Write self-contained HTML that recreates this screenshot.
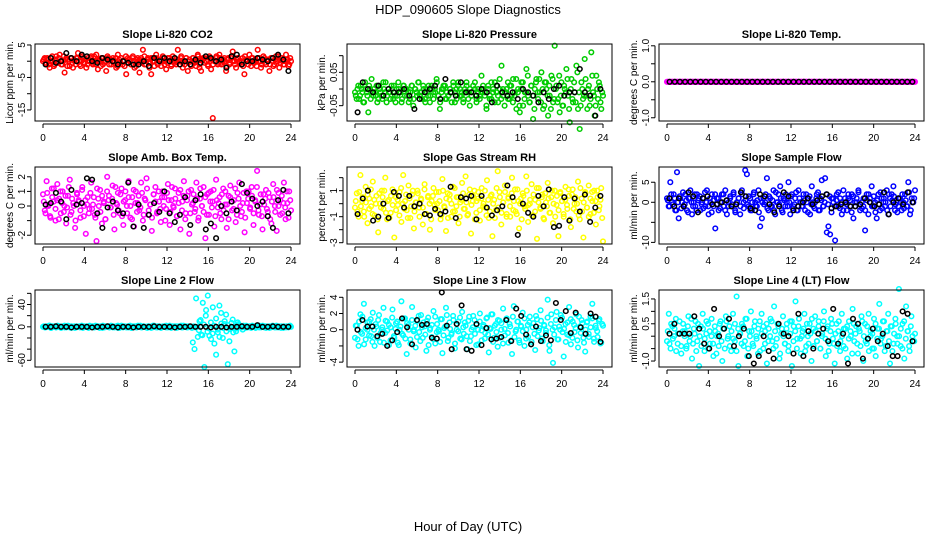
<!DOCTYPE html>
<html><head><meta charset="utf-8"><style>
html,body{margin:0;padding:0;background:#fff;}
svg{display:block;font-family:"Liberation Sans",sans-serif;}
</style></head><body>
<svg id="chart" width="936" height="540" viewBox="0 0 936 540" xmlns="http://www.w3.org/2000/svg">
<rect x="0" y="0" width="936" height="540" fill="#fff"/>
<text x="468" y="14" font-size="13" text-anchor="middle">HDP_090605  Slope Diagnostics</text>
<text x="468" y="531" font-size="13" text-anchor="middle">Hour of Day (UTC)</text>
</svg>
<script>
const xTicks = [0,4,8,12,16,20,24];
const titles = ["Slope Li-820 CO2","Slope Li-820 Pressure","Slope Li-820 Temp.","Slope Amb. Box Temp.","Slope Gas Stream RH","Slope Sample Flow","Slope Line 2 Flow","Slope Line 3 Flow","Slope Line 4 (LT) Flow"];
const yTitles = ["Licor ppm per min.","kPa per min.","degrees C per min.","degrees C per min.","percent per min.","ml/min per min.","ml/min per min.","ml/min per min.","ml/min per min."];
const colors = ["#ff0000","#00cc00","#ff00ff","#ff00ff","#ffff00","#0000ff","#00ffff","#00ffff","#00ffff"];
const yLims = [[5.3,-18.4],[0.135,-0.096],[1.05,-1.09],[2.67,-2.6],[2.82,-3.1],[8.8,-10.4],[66,-72],[4.9,-4.6],[1.86,-1.24]];
const yTickVals = [[5,0,-5,-10,-15],[0.1,0.05,0,-0.05],[1,0.5,0,-0.5,-1],[2,1,0,-1,-2],[2,1,0,-1,-2,-3],[5,0,-5,-10],[60,40,20,0,-20,-40,-60],[4,2,0,-2,-4],[1.5,1,0.5,0,-0.5,-1]];
const yTickLabels = [["5","","-5","","-15"],["","0.05","","-0.05"],["1.0","","0.0","","-1.0"],["2","1","0","","-2"],["","1","","-1","","-3"],["5","0","","-10"],["","40","","0","","","-60"],["4","2","0","","-4"],["1.5","","0.5","","","-1.0"]];
const valueScale = [1,0.01,1,1,1,1,1,1,1];

const co2All = [0,1,-1,0.5,-2,1,0,-1,1.5,-0.5,2,-1,0,-3.5,1,0.5,-1.5,1,-2,0,1,2.5,-1,0,1,-0.5,-2,1,0,1.5,-1,0,2,-2.5,0.5,1,-1,0,-3,1,0.5,-1,1,0,-2,2,-0.5,1,0,-1.5,-4,1,0,-1,1.5,-2,0.5,0,-3.5,1,3.5,-1,0,1,-2,-4,1,0,2,-1,0.5,-1.5,1,0,-2.5,1,0,-1,1.5,-0.5,0,3.5,-1,1,-2,0,1,-3,0.5,-1,1,0,-1.5,2,-2,-3,0.5,1,0,-1,1.5,-2.5,-17.5,0,1,-1,2,-0.5,0,1,-3,0.5,-1,1,3,0,-2,1,0,-1,1,-4,0.5,0,2,-1.5,1,-0.5,0,3.5,1,-2,0,1,-1,0.5,-3,1,0,-1,1.5,0,-2,1,0,-1,2,0.5,-1,0];
const co2Core = [0.5,-0.5,1,-1,0,1.5,-1.5,0.5,-0.5,1,0,-1,1.5,0.5,-1.5,0,1,-0.5,0.5,-1,1,0,-1.5,1.5,-0.5,0.5,-1,0,1,-0.5,1.5,-1,0,0.5,-1.5,1,-0.5,0,1.5,-1,0.5,0,-0.5,1,-1.5,0.5,1,-1,0,1.5,-0.5,0.5,-1,1,0,-1.5,1,0.5,-0.5,0,1.5,-1,0.5,-0.5,1,0,-1.5,1,-0.5,0.5,0,1.5,-1,0.5,-0.5,1,-1.5,0,1,-1,0.5,0,1.5,-0.5,-1,1,0,0.5,-1.5,1,-0.5,0,1.5,-1,0.5,1,-0.5,0,-1.5,1,0.5,-1,0,1.5,-0.5,1,-1,0.5,0,-1.5,1,-0.5,1.5,0,-1,0.5,1,-0.5,0,-1.5,1.5,0.5,-1,0,1,-0.5,0.5,-1.5,1,0,-1,1.5,-0.5,0.5,0,-1,1,-1.5,0.5,0,1.5,-0.5,1,-1,0,0.5,-1.5,1];
const co2Hourly = [-1,1,-0.5,0,2.5,1,0,2,1.5,0,-0.5,1,0.5,0,-1,0,-0.5,-1,-1,0,-1.5,1,0,1,0,1,-1,0,-1,0.5,-0.5,1.5,1,0,0.5,-2,1.5,2,-1,0,0,1,0.5,0,1,2,0.5,-3];
const presAll = [-1,-3,1,-2,0,-4,2,-1,-7,0,3,-2,-1,1,-3,0,-2,2,-1,-4,0,-1,1,-3,-2,0,2,-1,-4,1,-2,0,-1,-3,1,-5,0,-1,2,-2,-1,1,-3,0,-2,-4,1,-1,0,3,-2,-6,-1,0,1,-3,-2,0,-1,2,-4,0,1,-2,-1,-3,0,2,-1,-5,-2,1,0,-3,-1,-2,4,0,-1,-6,1,-2,-3,0,2,-1,-4,0,7,-2,-1,0,-3,1,-2,3,-1,-6,0,-7,2,-5,-1,6,-2,-4,1,-9,0,3,-3,-1,5,-6,2,0,-8,-2,4,-4,13,1,-3,-7,2,-5,0,6,-2,-10,3,-4,-1,7,-6,-12,2,-3,9,-2,0,-5,11,-1,-8,4,-3,1,-6,-2];
const presCore = [-2,0,-3,1,-1,-4,0,-2,1,-3,-1,0,-2,-4,1,-1,-3,0,2,-2,-1,-3,0,1,-4,-2,0,-1,-3,1,0,-2,-4,-1,1,-3,0,-2,2,-1,-3,0,-4,-1,1,-2,0,-3,-1,2,-2,-4,0,1,-3,-1,-2,0,-4,1,-1,-3,2,0,-2,-4,-1,1,-3,0,-2,-1,2,-4,0,-3,-1,1,-2,-5,0,-3,2,-1,-4,1,-2,3,-3,0,-5,-1,2,-3,1,-4,-2,3,-1,-5,0,2,-3,-1,4,-4,1,-2,-6,2,-1,3,-4,0,-5,2,-2,1,-6,3,-3,0,-4,4,-2,-5,1,-1,3,-6,0,-3,2,-4,5,-1,-5,0,-2,3,-6,1,-3,4,-2,-5,0,2,-4,-1];
const presHourly = [-7,2,0,-1,1,-2,0,-1,-1,0,-2,-6,-3,-1,0,1,-3,3,-1,-2,2,-1,-1,-2,0,-1,-4,1,-1,-2,-1,-3,0,-1,-2,-4,-1,-3,0,1,-2,-1,-1,6,-1,-2,-8,0];
const tempAll = [0,0,0,0,0,0,0,0,0,0,0,0,0,0,0,0,0,0,0,0,0,0,0,0,0,0,0,0,0,0,0,0,0,0,0,0,0,0,0,0,0,0,0,0,0,0,0,0,0,0,0,0,0,0,0,0,0,0,0,0,0,0,0,0,0,0,0,0,0,0,0,0,0,0,0,0,0,0,0,0,0,0,0,0,0,0,0,0,0,0,0,0,0,0,0,0,0,0,0,0,0,0,0,0,0,0,0,0,0,0,0,0,0,0,0,0,0,0,0,0,0,0,0,0,0,0,0,0,0,0,0,0,0,0,0,0,0,0,0,0,0,0,0,0,0,0,0,0,0,0];
const tempCore = [0,0,0,0,0,0,0,0,0,0,0,0,0,0,0,0,0,0,0,0,0,0,0,0,0,0,0,0,0,0,0,0,0,0,0,0,0,0,0,0,0,0,0,0,0,0,0,0,0,0,0,0,0,0,0,0,0,0,0,0,0,0,0,0,0,0,0,0,0,0,0,0,0,0,0,0,0,0,0,0,0,0,0,0,0,0,0,0,0,0,0,0,0,0,0,0,0,0,0,0,0,0,0,0,0,0,0,0,0,0,0,0,0,0,0,0,0,0,0,0,0,0,0,0,0,0,0,0,0,0,0,0,0,0,0,0,0,0,0,0,0,0,0,0,0,0,0,0,0,0];
const tempHourly = [0,0,0,0,0,0,0,0,0,0,0,0,0,0,0,0,0,0,0,0,0,0,0,0,0,0,0,0,0,0,0,0,0,0,0,0,0,0,0,0,0,0,0,0,0,0,0,0];
const ambAll = [0.8,-0.3,1.7,0,-0.7,1.2,0.3,-1,1.5,0.5,-0.5,1,0,-1.2,0.7,1.8,-0.4,0.2,-1.5,0.9,0.4,-0.8,1.3,0,-1.9,0.6,-0.2,1.6,0.1,-0.6,-2.4,0.5,1.1,-1.2,0.3,-0.9,2,0.7,-0.1,1.4,-1.6,0.2,0.9,-0.5,1.2,-1.3,0.4,0,1.7,-0.8,0.6,-1.4,1,0.2,-0.3,1.6,-1,0.5,1.9,-0.6,0.1,-1.7,0.8,1.3,-0.4,0.3,-1.1,1,0.6,-0.2,1.5,-1.3,0.4,0,1.2,-0.7,0.9,-1.6,0.3,1.7,-0.5,0.7,-1.9,1.1,0.2,-0.4,1.6,-1,0.5,0,1.3,-2.2,0.8,-0.6,1,0.3,-1.4,1.8,-0.1,0.6,-0.9,1.2,0.1,-1.5,0.7,1.4,-0.3,0.4,-1.1,0.9,1.6,-0.7,0.2,-1.8,1,0.5,-0.2,1.3,-1.3,0.3,2.4,-0.6,0.8,-1.6,0.1,1.1,-0.4,0.6,-1.2,1.5,0,-1.7,0.9,0.4,-0.5,1.6,-0.9,0.2,1,-0.3];
const ambCore = [0.3,-0.5,0.9,0.1,-0.8,0.6,1.2,-0.2,0.4,-0.9,1,0.2,-0.4,0.7,-0.1,1.3,-0.6,0.5,0,-1,0.8,0.3,-0.3,1.1,-0.7,0.4,0.1,-0.5,0.9,-0.2,0.6,-0.8,1.2,0,-0.4,0.7,0.2,-0.9,1,0.4,-0.1,0.5,-0.6,1.3,0.1,-0.3,0.8,-0.7,0.3,1,-0.5,0.6,0,-0.9,1.1,0.2,-0.4,0.7,-0.1,0.9,-0.6,0.4,1.2,-0.3,0.1,-0.8,0.8,0.3,-0.5,1,-0.2,0.6,0,-1,0.9,0.4,-0.4,1.3,-0.1,0.5,-0.7,0.2,1.1,-0.3,0.7,-0.9,0.4,1,-0.5,0.1,0.8,-0.2,0.5,-0.8,1.2,0,-0.4,0.6,-0.6,0.9,0.3,-0.1,1.1,-0.7,0.4,0.2,-0.5,0.8,-0.3,1,0.1,-0.9,0.6,0.3,-0.2,1.2,-0.6,0.5,0,-0.4,0.9,-0.8,0.2,1,-0.1,0.7,-0.5,0.4,1.3,-0.3,0.1,-0.7,0.8,0.5,-0.2,0.9,-0.9,0.3,0.6,-0.4,1.1,0,-0.6,0.7,0.2,-0.1,1,-0.8,0.4];
const ambHourly = [0.1,0.2,0.9,0.3,-0.9,1.1,0.1,0.2,1.9,1.8,-0.5,-1.5,-0.1,0.3,-0.3,-0.5,1.6,-1.4,0.1,-1.5,-0.6,0.2,-0.4,1,-0.5,-1.1,-0.6,0.6,-1.3,0.4,0.8,-1.6,-1.2,-2.2,0,-0.5,0.3,-0.3,1.5,0.9,0.5,0,0.3,-0.7,-1.5,0.4,1.1,-0.5];
const rhAll = [-0.3,0.8,-1,2.2,0.2,-0.6,1.3,-1.5,0.4,-0.2,1.7,-0.9,0.6,-2.2,0,1,-0.4,2,-1.2,0.3,-0.7,1.1,-2.6,0.5,-0.1,0.9,-1.4,2.2,0.2,-0.5,1.4,-1.1,0.7,-1.9,0.1,1,-0.3,0.4,-1.6,1.5,-0.8,0.6,-2,0.2,1.2,-0.5,0,0.9,-1.2,1.9,-0.2,-2.1,0.8,0.3,-1,1.3,-0.6,0.5,-1.5,0.1,1.6,-0.4,2.1,-0.9,0.7,-2.3,0.2,1,-0.7,0.4,-1.3,1.2,0,-0.3,1.8,-1.1,0.6,-2.5,0.3,-0.5,2.5,0.9,-1.6,0.1,1.4,-0.8,0.5,-1,2,0.2,-0.6,1.1,-1.9,0.4,0.8,-0.2,2.1,-1.4,0,1.5,-0.9,0.3,-2.7,1.2,-0.4,0.7,-1.2,0.1,1.6,-0.7,0.5,-1.5,1,-0.1,-2.5,0.8,0.2,-1,1.3,-0.4,0.6,-1.8,1.1,0,-0.6,1.7,-1.2,0.4,-2.6,0.9,-0.3,1.4,-0.8,0.2,1,-1.6,0.5,-0.2,1.2,-2.9];
const rhCore = [0.2,-0.6,0.9,-0.2,0.5,-1,0.1,0.7,-0.4,1.1,-0.8,0.3,0,-1.2,0.8,-0.3,0.5,1,-0.7,0.2,-1.1,0.6,-0.1,0.9,-0.5,0.3,-0.9,1.2,0,-0.4,0.7,-1.1,0.4,-0.2,1,-0.6,0.1,0.8,-1,0.3,-0.3,1.1,-0.8,0.5,0,-1.2,0.6,-0.1,0.9,-0.5,0.2,-0.9,1,-0.3,0.4,-1.1,0.7,0,-0.6,1.2,-0.2,0.5,-1,0.3,0.8,-0.4,0.1,-0.8,1.1,-0.1,0.6,-1.2,0.2,0.9,-0.5,0.4,-0.2,1,-0.9,0.3,-0.6,0.7,0,-1.1,1.2,-0.3,0.5,-0.7,0.1,0.9,-1,0.4,-0.2,0.8,-0.5,1.1,-0.8,0.2,0,-1.2,0.6,-0.4,1,-0.1,0.3,-0.9,0.7,-0.6,1.2,0.1,-0.3,0.5,-1.1,0.8,-0.2,0.4,-0.7,1,0,-1,0.6,-0.5,0.9,0.2,-0.8,0.3,-0.1,1.1,-1.2,0.7,-0.4,0.5,0,-0.9,1.2,-0.6,0.1,0.8,-0.3,-1,0.4,0.9,-0.7,0.2,1,-0.5,0.3,-1.1];
const rhHourly = [-0.8,0.4,1,-1.3,-1,0,-1.1,0.9,0.6,-0.3,0.6,-0.2,0,-0.8,-0.9,-0.4,-0.8,-0.6,1.3,-1.1,0.5,0.4,0.6,-1.2,0.6,-0.3,-0.9,-0.5,-0.2,1.4,0.5,-2.4,0,-0.7,-1,0.6,-0.2,1.1,-1.8,-1.7,0.5,-1.3,0.4,-0.6,0.7,-1.4,-0.3,0.6];
const sampleAll = [1,-1,5,0,2,-2,7.5,-4,1,0,-1,2,-2,1,3,-3,0,-1,2,1,-2,0,1,-1,3,-3,0,2,-1,-6.5,1,-2,0,2,-1,3,-3,0,1,-1,2,-2,0,1,-3,3,0,8,7,-1,1,-2,2,0,-1,3,-6,-4,1,0,6,-2,1,-1,3,-3,0,2,4,-2,1,-1,0,5,-3,2,-1,1,-2,3,0,-1,2,-2,0,1,-3,4,-1,0,2,-2,1,5.5,-1,6,-7.5,-6,-8,1,0,-9.5,2,-1,1,-3,3,0,-2,1,-1,2,-4,0,1,3,-2,0,-1,-7,2,-3,1,4,-1,0,-4,2,-2,1,0,-1,3,-3,1,2,4,-2,0,-1,1,-2,0,2,-1,5,-3,1,0,3];
const sampleCore = [0.5,-1,2,-0.5,1,-2,0,1.5,-1.5,2.5,-0.5,0.5,-2.5,1,0,-1,2,-2,0.5,1.5,-0.5,-1.5,2.5,0,-1,1,-2.5,0.5,2,-0.5,1,-1.5,0,2,-2,0.5,-1,1.5,-0.5,2.5,-2.5,0,1,-1,2,-1.5,0.5,-0.5,1.5,-2,0,2.5,-1,0.5,-2.5,1,0,-0.5,2,-1.5,1.5,-1,0.5,-2,2.5,0,-0.5,1,-2.5,0.5,2,-1,0,1.5,-1.5,-0.5,2.5,-2,1,0,-1,0.5,2,-2.5,1.5,-0.5,0,-1.5,1,2.5,-2,0.5,-1,0,2,-0.5,1.5,-2.5,1,-1,0.5,2.5,-1.5,0,-2,1,-0.5,2,0.5,-2.5,1.5,-1,0,2.5,-0.5,-1.5,1,-2,0.5,2,0,-1,1.5,-2.5,0.5,-0.5,2.5,-1.5,1,0,-2,2,-1,0.5,1.5,-0.5,-2.5,1,0,2,-1.5,0.5,-1,2.5,-2,0,1];
const sampleHourly = [1,-1,1,-1,2.5,1.5,-2.5,1,1.5,-0.5,-0.5,0,0.5,-1,-0.5,2.5,1.5,-1.5,-2,2,1.5,-0.5,-2.5,-1,2.5,1.5,-2,-1,0,1,-0.5,0.5,1.5,2,-1.5,-1,-0.5,0,-1,-1,-0.5,1,0,-1,-0.5,2.5,-3,0,1,-0.5,2.5,0];
const line2All = [0,-1,1,0,2,-2,0,1,-1,0,1,-1,0,2,-1,0,1,-2,0,1,-1,0,1,0,-2,1,0,-1,2,0,1,-1,0,1,-2,0,2,-1,0,1,-1,0,1,-1,0,2,-2,0,1,0,-1,1,0,-2,1,0,-1,2,0,-1,1,0,-1,1,0,-2,2,0,-1,1,0,-1,1,0,2,-1,0,-2,1,0,1,-1,0,2,-1,0,1,-1,0,-1,-28,-40,51,-18,10,-14,43,-72,30,56,-16,-22,35,-30,-50,-10,38,25,-20,5,22,-67,-26,-2,13,-44,-8,8,3,1,-5,0,2,-1,1,-2,0,1,-1,0,2,-1,0,1,-2,0,1,-1,2,0,-1,0,1,-2,0,1,-1,0,1,0];
const line2Core = [1,-1,0,2,-2,1,0,-1,2,0,-2,1,-1,0,2,-1,1,0,-2,1,0,-1,2,-1,0,1,-2,0,1,-1,2,0,-1,1,-2,0,1,0,-1,2,-1,0,1,-2,0,2,-1,1,0,-1,2,-2,0,1,-1,0,2,-1,1,0,-2,1,0,-1,2,0,-1,1,-2,0,1,-1,0,2,-1,0,1,-2,1,0,-1,2,0,-1,1,0,-2,1,-1,0,-6,12,-15,4,20,-9,-3,8,-12,2,15,-5,-18,6,-2,10,-8,3,-4,7,-10,1,-3,5,0,-1,2,-2,1,0,-1,2,0,-2,1,-1,0,2,-1,1,0,-2,1,0,-1,2,-1,0,1,-2,0,1,-1,2];
const line2Hourly = [0,0,1,0,0,-1,0,0,0,-1,0,0,1,0,-1,0,0,-1,0,0,0,1,0,0,0,-1,0,0,1,0,0,0,-1,0,0,-1,0,0,1,0,0,3,0,0,1,0,0,0];
const line3All = [-1,0.5,-2,1.9,-0.5,3.2,-1.2,0,1,-0.8,2.1,-2,0.4,1.2,-1.5,0,2.7,-0.4,1,-1.9,0.3,2.5,-1,0.8,-1.6,0,3.5,-0.7,1.4,-3,0.6,-1.2,2.8,0,-2.2,1.1,-0.3,1.8,-1,0.4,-2.6,1.5,0,-0.9,2.3,-1.7,0.7,-0.2,1.3,-2.9,0.2,2.7,-1.4,0.9,-0.6,1.7,-2.3,0,1,-1.1,2.2,-0.5,0.5,-2.4,1.6,-0.8,0.3,1.2,-1.9,0,2,-1.3,0.6,-0.4,1.5,-2.8,0.1,1.9,-1,0.7,-2.1,1.1,0,2.6,-0.7,1.4,-1.6,0.4,-3,2.9,-0.2,1,-1.3,0.5,2.1,-2,0,-0.9,1.6,-1.5,0.8,-2.5,1.3,-0.1,2.4,-1.1,0.6,-0.4,3.7,-2.6,1.9,-4.1,0.3,2.2,-1.2,0,1.5,-3.3,0.7,-0.6,2.8,-1.8,1,-0.3,1.9,-2.2,0.4,1.2,-1,-2.7,0.9,-0.5,1.6,3.2,-1.5,0.2,-0.9,1.3,-1.6,0.5];
const line3Core = [0.5,-1.2,1,-0.3,1.6,-1.8,0.2,0.9,-0.7,1.3,-1.5,0,0.7,-1,1.8,-0.4,0.3,-1.6,1.1,-0.1,0.6,-1.3,1.5,-0.8,0.1,1,-1.9,0.4,-0.5,1.4,-1.1,0.8,0,-1.7,1.2,-0.2,0.5,-0.9,1.7,-1.4,0.3,0.9,-0.6,1.1,-1.9,0.2,0.6,-1.2,1.6,-0.3,0,-1.5,1.3,-0.7,0.4,1.8,-1,0.1,-0.4,1.2,-1.7,0.7,-0.2,1.5,-1.2,0.3,0.9,-0.8,1.1,-1.4,0,1.7,-0.5,0.6,-1.8,1,-0.1,0.4,-1.1,1.4,-0.6,0.2,1.9,-1.5,0.5,-0.3,1.2,-1,0.8,-1.7,0.1,1.3,-0.4,0.7,-1.3,1.6,-0.9,0,1,-1.6,0.4,-0.2,1.4,-1.1,0.6,0.9,-1.8,0.3,-0.5,1.7,-0.8,0.2,1.1,-1.4,0.5,-0.1,1.5,-1.9,0.7,0,-0.6,1.2,-1.2,0.4,1.8,-0.3,0.1,-1.5,0.9,-0.7,1.3,-1,0.6,0.2,-1.3,1.6,-0.4,0.8,-1.6,0,1,-0.9,0.3,1.4,-1.1,0.5,-0.2,1.1,-1.7,0.7];
const line3Hourly = [0,1.2,0.4,0.4,-0.8,-0.5,-2,-1.3,-0.3,1.4,0.3,-1.8,1.2,0.6,0.7,-1,-1.1,4.6,0.5,-2.4,0.7,3,-2.4,-2.6,0.7,-1.9,0.2,-1.2,-1.1,-0.9,1.2,-1.4,2.6,1.7,-0.6,-1.8,0.4,-1.4,-0.7,-1.3,3.3,1.2,2.3,-0.4,2.1,0.3,-0.5,2,1.6,-1.5];
const line4All = [-0.2,0.9,-0.5,0.4,0,0.7,-0.3,0.1,-0.7,0.5,0.2,-0.4,0.8,0,-0.9,0.3,0.6,-0.2,-1.2,0.4,0.9,-0.6,0.1,0.5,-0.3,0.7,-0.8,0.2,0,-0.4,0.6,-1,0.3,0.8,-0.1,0.4,-0.6,0.9,-0.2,1.6,-1.2,0.1,0.5,-0.4,0.7,-0.8,0.2,1,-0.3,0.4,0,-0.7,0.6,0.9,-0.5,0.2,-1.1,0.3,0.7,-0.2,1.2,-0.4,0.5,-0.9,0.1,0.8,-0.3,0.3,-0.6,0.6,-1.2,0.4,1.4,-0.1,0.7,-0.7,0.2,0.9,-0.4,0,0.5,-1,0.3,0.8,-0.2,0.6,-0.5,0.1,1,-0.8,0.4,-0.3,0.7,-0.1,-1.1,0.5,0.2,-0.6,0.9,-0.4,0.3,-0.9,0.6,0,1.1,-0.2,0.4,-0.7,0.2,0.8,-1,0.5,-0.3,0.9,0,-0.5,0.7,-0.8,0.3,1.3,-0.1,0.6,-0.6,0.2,0.9,-1.1,0.4,-0.3,0.7,0,1.9,-0.4,0.5,-0.9,1.2,0.2,-0.6,0.8,-0.2,0.1];
const line4Core = [0.2,-0.3,0.5,-0.1,0.3,-0.6,0.1,0.6,-0.4,0.2,0,-0.5,0.4,-0.2,0.7,-0.3,0.1,-0.6,0.5,0,-0.4,0.3,-0.1,0.6,-0.5,0.2,0,-0.3,0.4,-0.7,0.1,0.5,-0.2,0.3,-0.5,0.6,0,-0.4,0.2,-0.1,0.5,-0.6,0.3,0.1,-0.3,0.4,-0.2,0.7,-0.5,0,0.2,-0.4,0.6,-0.1,0.3,-0.6,0.1,0.4,-0.3,0.5,-0.2,0,0.6,-0.5,0.2,-0.1,0.4,-0.7,0.3,0,-0.3,0.5,-0.4,0.1,0.6,-0.2,0.2,-0.5,0.4,-0.1,0,0.3,-0.6,0.5,-0.3,0.1,0.7,-0.4,0.2,-0.2,0.4,-0.5,0,0.6,-0.1,0.3,-0.6,0.2,0.5,-0.3,0.1,-0.4,0.6,-0.2,0,0.3,-0.5,0.4,-0.1,0.2,-0.7,0.5,0.1,-0.3,0.3,-0.4,0.6,0,-0.2,0.4,-0.6,0.2,0.1,-0.5,0.5,-0.1,0.3,-0.3,0,0.6,-0.4,0.2,-0.2,0.4,-0.6,0.1,0.5,-0.3,0,0.3,-0.5,0.6,-0.1,0.2,-0.4,0.4,0,-0.2];
const line4Hourly = [0.1,0.5,0.1,0.1,0.1,0.8,0.3,-0.3,-0.5,1.1,0,0.3,0.7,-0.4,0,0.3,-0.8,-1.1,-0.8,0,-0.6,-0.9,0.5,0.1,0,-0.7,0.9,-0.8,0.2,-0.5,0.1,0.3,-0.2,1.1,-0.3,0.1,-1.1,0.7,0.5,-0.9,-0.1,0.3,-0.2,0.1,-0.4,-0.8,-0.8,1,0.9,-0.2];

const allSeries = [co2All,presAll,tempAll,ambAll,rhAll,sampleAll,line2All,line3All,line4All];
const coreSeries = [co2Core,presCore,tempCore,ambCore,rhCore,sampleCore,line2Core,line3Core,line4Core];
const hourlySeries = [co2Hourly,presHourly,tempHourly,ambHourly,rhHourly,sampleHourly,line2Hourly,line3Hourly,line4Hourly];
const panelNames = ["co2","pressure","licor-temp","amb-box-temp","gas-stream-rh","sample-flow","line2-flow","line3-flow","line4-flow"];

const NS = "http://www.w3.org/2000/svg";
const svg = document.getElementById("chart");
function mk(tag, attrs, parent){ const e=document.createElementNS(NS,tag); for(const k in attrs) e.setAttribute(k,attrs[k]); (parent||svg).appendChild(e); return e; }

for(let p=0;p<9;p++){
  const col=p%3, row=Math.floor(p/3);
  const bx=col*312+35, bx2=col*312+300, by=44+row*123, by2=by+77;
  const hx0=col*312+43, hw=248;
  const xScale=h=>hx0+h/24*hw;
  const [yt,yb]=yLims[p];
  const yScale=v=>by+(yt-v)/(yt-yb)*(by2-by);
  const g=mk("g",{});
  
  
  const marks=mk("g",{},g);
  
  
  const sc=valueScale[p];
  const C=coreSeries[p];
  for(let i=0;i<C.length;i++){
    const h=(i+0.5)*24/C.length;
    const c=mk("circle",{cx:xScale(h).toFixed(1),cy:yScale(C[i]*sc).toFixed(1),r:2.3,fill:"none",stroke:colors[p],"stroke-width":1.5},marks);
    
    
  }
  const A=allSeries[p];
  for(let i=0;i<A.length;i++){
    const h=i*24/(A.length-1);
    const c=mk("circle",{cx:xScale(h).toFixed(1),cy:yScale(A[i]*sc).toFixed(1),r:2.3,fill:"none",stroke:colors[p],"stroke-width":1.5},marks);
    
    
  }
  const H=hourlySeries[p];
  for(let i=0;i<H.length;i++){
    const h=(i+0.5)*24/H.length;
    const c=mk("circle",{cx:xScale(h).toFixed(1),cy:yScale(H[i]*sc).toFixed(1),r:2.3,fill:"none",stroke:"#000","stroke-width":1.5},marks);
    
    
  }
  const box=mk("rect",{x:bx,y:by,width:bx2-bx,height:by2-by,fill:"none",stroke:"#000","stroke-width":1},g);
  
  
  const t=mk("text",{x:(bx+bx2)/2,y:by-6,"font-size":11,"font-weight":"bold","text-anchor":"middle"},g);
  t.textContent=titles[p];
  
  
  const xa=mk("g",{},g);
  
  
  const axY=by2+3;
  mk("line",{x1:xScale(xTicks[0]),x2:xScale(xTicks[xTicks.length-1]),y1:axY,y2:axY,stroke:"#000"},xa);
  xTicks.forEach(v=>{
    mk("line",{x1:xScale(v),x2:xScale(v),y1:axY,y2:axY+4,stroke:"#000"},xa);
    const l=mk("text",{x:xScale(v),y:by2+20,"font-size":10,"text-anchor":"middle"},xa);
    l.textContent=v;
    
    
  });
  const ya=mk("g",{},g);
  
  
  const yv=yTickVals[p];
  const axX=bx-4;
  mk("line",{x1:axX,x2:axX,y1:yScale(yv[0]),y2:yScale(yv[yv.length-1]),stroke:"#000"},ya);
  yv.forEach((v,k)=>{
    const yy=yScale(v);
    mk("line",{x1:axX-4,x2:axX,y1:yy,y2:yy,stroke:"#000"},ya);
    if(yTickLabels[p][k]){
      const l=mk("text",{x:0,y:0,"font-size":10,"text-anchor":"middle",transform:`translate(${bx-10},${yy}) rotate(-90)`},ya);
      l.textContent=yTickLabels[p][k];
      
      
    }
  });
  const yt2=mk("text",{x:0,y:0,"font-size":10,"text-anchor":"middle",transform:`translate(${col*312+13},${(by+by2)/2}) rotate(-90)`},g);
  yt2.textContent=yTitles[p];
  
  
}
</script>
</body></html>
